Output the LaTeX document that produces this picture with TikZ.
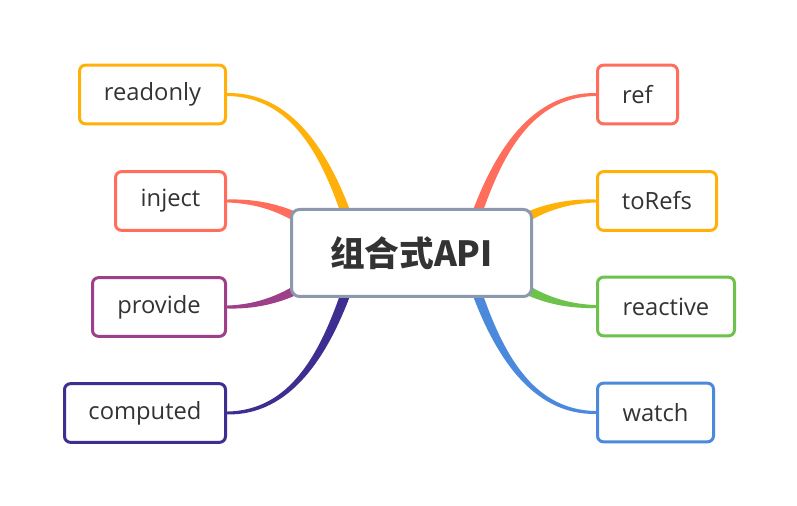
\documentclass[tikz,border=0pt]{standalone}
\usepackage{fontspec}
\setmainfont{Open Sans}
\newfontfamily\cjk{Noto Sans CJK SC}
\usetikzlibrary{calc,backgrounds}
\definecolor{txt}{HTML}{333333}
\definecolor{cAmber}{HTML}{FFB10A}
\definecolor{cCoral}{HTML}{FF6E5C}
\definecolor{cPlum}{HTML}{9E3F8A}
\definecolor{cIndigo}{HTML}{3F2E91}
\definecolor{cGreen}{HTML}{6CC24A}
\definecolor{cBlue}{HTML}{4A89DC}
\definecolor{cGray}{HTML}{8C98AB}
\newcommand\mmbranch[5]{%
  \path (#2) coordinate (b0) (#3) coordinate (b1) (#4) coordinate (b2) (#5) coordinate (b3);
  \fill[#1] ($(b0)!1.1pt!90:(b1)$) .. controls ($(b1)!1.9pt!-90:(b0)$) and ($(b2)!3.2pt!90:(b3)$) .. ($(b3)!3.8pt!-90:(b2)$)
    -- ($(b3)!3.8pt!90:(b2)$) .. controls ($(b2)!3.2pt!-90:(b3)$) and ($(b1)!1.9pt!90:(b0)$) .. ($(b0)!1.1pt!-90:(b1)$) -- cycle;}
\tikzset{
  leaf/.style={draw=#1, line width=2.25pt, rounded corners=4.5pt, fill=white,
    minimum height=44pt, inner sep=0pt, text=txt, font=\fontsize{17.8}{21}\selectfont},
  hub/.style={draw=cGray, line width=2.25pt, rounded corners=6pt, fill=white,
    minimum width=180pt, minimum height=65.25pt, inner sep=0pt, text=txt,
    font=\cjk\bfseries\fontsize{26}{30}\selectfont}
}
\begin{document}
\begin{tikzpicture}[x=0.75pt,y=-0.75pt]
\useasboundingbox (0,0) rectangle (797,506);
\node[hub] (c) at (411.5,253) {组合式API};
\node[leaf=cAmber, minimum width=109.5pt, anchor=east] (readonly) at (227,94.5) {readonly};
\node[leaf=cCoral, minimum width=82.5pt, anchor=east] (inject) at (227,201) {inject};
\node[leaf=cPlum, minimum width=99.75pt, anchor=east] (provide) at (227,307) {provide};
\node[leaf=cIndigo, minimum width=120.75pt, anchor=east] (computed) at (227,413) {computed};
\node[leaf=cCoral, minimum width=60pt, anchor=west] (ref) at (596,94.5) {ref};
\node[leaf=cAmber, minimum width=89.25pt, anchor=west] (toRefs) at (596,201) {toRefs};
\node[leaf=cGreen, minimum width=102.75pt, anchor=west] (reactive) at (596,306.5) {reactive};
\node[leaf=cBlue, minimum width=87pt, anchor=west] (watch) at (596,412.5) {watch};
\begin{scope}[on background layer]
\mmbranch{cAmber}{readonly.east}{$(readonly.east)+(63,0)$}{$(c.center)+(-86.5,-103)$}{$(c.center)+(-61.5,-28)$}
\mmbranch{cCoral}{inject.east}{$(inject.east)+(33,0)$}{$(c.center)+(-126.5,-43)$}{$(c.center)+(-106.5,-31)$}
\mmbranch{cPlum}{provide.east}{$(provide.east)+(33,0)$}{$(c.center)+(-126.5,44)$}{$(c.center)+(-106.5,32)$}
\mmbranch{cIndigo}{computed.east}{$(computed.east)+(63,0)$}{$(c.center)+(-86.5,103)$}{$(c.center)+(-61.5,28)$}
\mmbranch{cCoral}{ref.west}{$(ref.west)+(-63,0)$}{$(c.center)+(86.5,-103)$}{$(c.center)+(61.5,-28)$}
\mmbranch{cAmber}{toRefs.west}{$(toRefs.west)+(-33,0)$}{$(c.center)+(126.5,-43)$}{$(c.center)+(106.5,-31)$}
\mmbranch{cGreen}{reactive.west}{$(reactive.west)+(-33,0)$}{$(c.center)+(126.5,44)$}{$(c.center)+(106.5,32)$}
\mmbranch{cBlue}{watch.west}{$(watch.west)+(-63,0)$}{$(c.center)+(86.5,103)$}{$(c.center)+(61.5,28)$}
\end{scope}
\end{tikzpicture}
\end{document}
